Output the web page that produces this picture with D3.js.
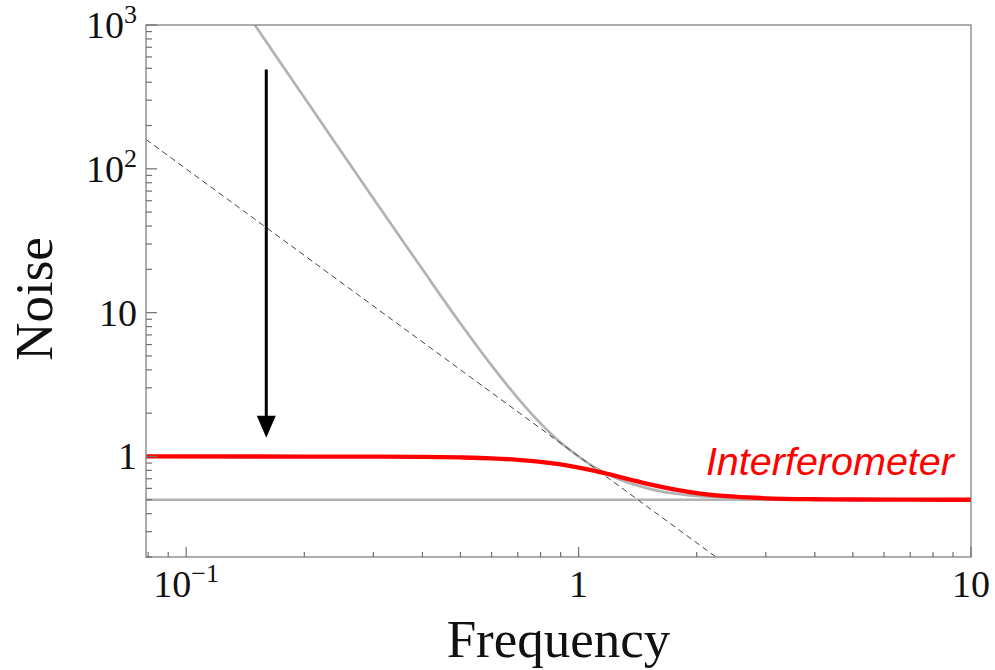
<!DOCTYPE html>
<html>
<head>
<meta charset="utf-8">
<script src="https://cdn.jsdelivr.net/npm/d3@7"></script>
<style>
  body { margin: 0; background: #fff; }
  text { font-family: "Liberation Serif", "Times New Roman", serif; }
</style>
</head>
<body>
<svg id="chart" width="995" height="670"></svg>
<script>
// Axis ranges and ticks
const freqRange = [0.079, 10];
const noiseRange = [0.2, 1000];
const xMajor = [0.1, 1, 10];
const xMinor = [0.08, 0.09, 0.2, 0.3, 0.4, 0.5, 0.6, 0.7, 0.8, 0.9, 2, 3, 4, 5, 6, 7, 8, 9];
const yMajor = [1, 10, 100, 1000];
const yMinor = [0.2, 0.3, 0.4, 0.5, 0.6, 0.7, 0.8, 0.9, 2, 3, 4, 5, 6, 7, 8, 9,
                20, 30, 40, 50, 60, 70, 80, 90, 200, 300, 400, 500, 600, 700, 800, 900];
// tick labels: [base, exponent]
const xLabels = [['10', '\u22121'], ['1', ''], ['10', '']];
const yLabels = [['1', ''], ['10', ''], ['10', '2'], ['10', '3']];

// Series: [frequency, noise]
const shotNoise = [[0.079, 0.5], [10, 0.5]];
const sqlLine = [[0.079, 160], [2.24, 0.2]];
const quantumNoise = [
  [0.1496, 1000], [0.17, 599], [0.2, 313], [0.25, 128.5], [0.3, 62.2], [0.35, 33.8],
  [0.4, 20.0], [0.5, 8.4], [0.6, 4.3], [0.7, 2.55], [0.8, 1.7], [0.9, 1.25], [1.0, 1.0],
  [1.1, 0.84], [1.25, 0.705], [1.5, 0.6], [1.75, 0.553], [2, 0.531], [2.5, 0.513],
  [3, 0.506], [4, 0.502], [6, 0.5004], [10, 0.5]
];
const interferometer = [
  [0.079, 1.0], [0.2, 0.999], [0.3, 0.998], [0.4, 0.994], [0.5, 0.985], [0.6, 0.971],
  [0.7, 0.948], [0.8, 0.918], [0.9, 0.88], [1.0, 0.837], [1.1, 0.793], [1.2, 0.75],
  [1.35, 0.692], [1.5, 0.645], [1.75, 0.591], [2.0, 0.557], [2.5, 0.525], [3, 0.512],
  [4, 0.504], [5, 0.502], [7, 0.5005], [10, 0.5]
];
// arrow: frequency, start noise, tip noise
const arrowSpec = { f: 0.16, from: 490, to: 1.35 };
const curveLabel = { text: 'Interferometer', f: 4.37, n: 0.74 };

const margin = { top: 25, right: 24, bottom: 113, left: 146 };
const width = 995 - margin.left - margin.right;
const height = 670 - margin.top - margin.bottom;

const svg = d3.select('#chart');
const g = svg.append('g').attr('transform', `translate(${margin.left},${margin.top})`);

const x = d3.scaleLog().domain(freqRange).range([0, width]);
const y = d3.scaleLog().domain(noiseRange).range([height, 0]);

g.append('clipPath').attr('id', 'plot-clip')
  .append('rect').attr('width', width).attr('height', height);

const line = d3.line()
  .x(d => x(d[0]))
  .y(d => y(d[1]))
  .curve(d3.curveMonotoneX);

const plot = g.append('g').attr('clip-path', 'url(#plot-clip)');

plot.append('path').datum(shotNoise)
  .attr('d', line).attr('fill', 'none')
  .attr('stroke', '#b3b3b3').attr('stroke-width', 2.7);

plot.append('path').datum(quantumNoise)
  .attr('d', line).attr('fill', 'none')
  .attr('stroke', '#b3b3b3').attr('stroke-width', 2.7);

plot.append('path').datum(sqlLine)
  .attr('d', d3.line().x(d => x(d[0])).y(d => y(d[1])))
  .attr('fill', 'none')
  .attr('stroke', '#444').attr('stroke-width', 1)
  .attr('stroke-dasharray', '6,4');

plot.append('path').datum(interferometer)
  .attr('d', line).attr('fill', 'none')
  .attr('stroke', '#ff0000').attr('stroke-width', 4.3);

// Arrow pointing down
const ax = x(arrowSpec.f);
const ay0 = y(arrowSpec.from);
const ay1 = y(arrowSpec.to);
const headLen = 22, headHalf = 9.5;
g.append('line')
  .attr('x1', ax).attr('x2', ax)
  .attr('y1', ay0).attr('y2', ay1 - headLen + 2)
  .attr('stroke', '#000').attr('stroke-width', 3);
g.append('path')
  .attr('d', `M${ax - headHalf},${ay1 - headLen}L${ax + headHalf},${ay1 - headLen}L${ax},${ay1}Z`)
  .attr('fill', '#000');

g.append('text')
  .attr('x', x(curveLabel.f)).attr('y', y(curveLabel.n))
  .attr('text-anchor', 'middle')
  .style('font-family', '"Liberation Sans", Arial, sans-serif')
  .style('font-style', 'italic')
  .style('font-size', '39.5px')
  .attr('fill', '#ff0000')
  .text(curveLabel.text);

// Frame
g.append('rect')
  .attr('width', width).attr('height', height)
  .attr('fill', 'none').attr('stroke', '#808080').attr('stroke-width', 1.3);

// Ticks (inward, left and bottom only)
const tickColor = '#707070';
g.selectAll('.xmaj').data(xMajor).enter().append('line')
  .attr('x1', d => x(d)).attr('x2', d => x(d))
  .attr('y1', height).attr('y2', height - 10)
  .attr('stroke', tickColor).attr('stroke-width', 1.2);
g.selectAll('.xmin').data(xMinor).enter().append('line')
  .attr('x1', d => x(d)).attr('x2', d => x(d))
  .attr('y1', height).attr('y2', height - 5)
  .attr('stroke', tickColor).attr('stroke-width', 1.2);
g.selectAll('.ymaj').data(yMajor).enter().append('line')
  .attr('x1', 0).attr('x2', 11)
  .attr('y1', d => y(d)).attr('y2', d => y(d))
  .attr('stroke', tickColor).attr('stroke-width', 1.2);
g.selectAll('.ymin').data(yMinor).enter().append('line')
  .attr('x1', 0).attr('x2', 6)
  .attr('y1', d => y(d)).attr('y2', d => y(d))
  .attr('stroke', tickColor).attr('stroke-width', 1.2);

function addLabel(sel, lab) {
  sel.append('tspan').text(lab[0]);
  if (lab[1]) {
    sel.append('tspan').attr('dy', -15).style('font-size', '26px').text(lab[1]);
  }
}

xMajor.forEach((v, i) => {
  const t = g.append('text')
    .attr('x', x(v)).attr('y', height + 40)
    .attr('text-anchor', 'middle')
    .style('font-size', '38px').attr('fill', '#111');
  addLabel(t, xLabels[i]);
});

yMajor.forEach((v, i) => {
  const t = g.append('text')
    .attr('x', -9).attr('y', y(v) + 13)
    .attr('text-anchor', 'end')
    .style('font-size', '38px').attr('fill', '#111');
  addLabel(t, yLabels[i]);
});

// Axis titles
g.append('text')
  .attr('x', width / 2).attr('y', height + 100)
  .attr('text-anchor', 'middle')
  .style('font-size', '53px').attr('fill', '#111')
  .text('Frequency');

g.append('text')
  .attr('transform', `translate(${52 - margin.left},${height / 2 + 8}) rotate(-90)`)
  .attr('text-anchor', 'middle')
  .style('font-size', '53px').attr('fill', '#111')
  .text('Noise');
</script>
</body>
</html>
